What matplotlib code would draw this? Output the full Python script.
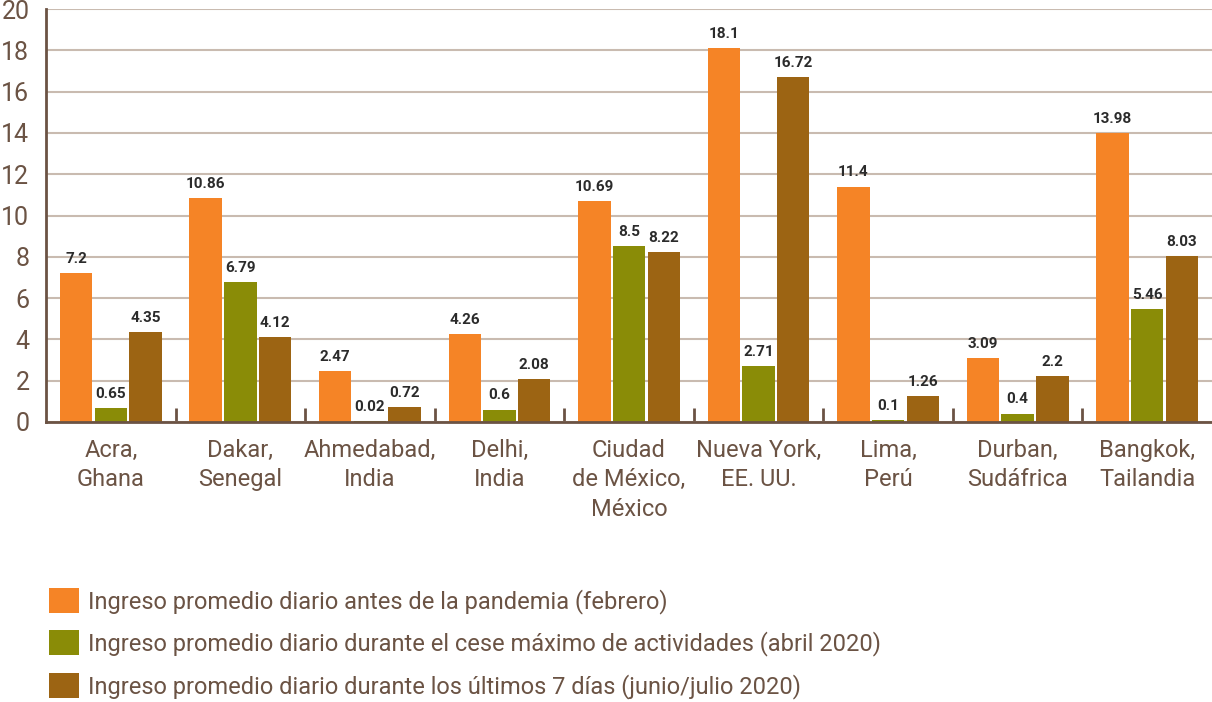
import matplotlib.pyplot as plt
import numpy as np
from matplotlib.ticker import FixedLocator

plt.rcParams['font.family'] = ['Roboto', 'DejaVu Sans']

ciudades = ["Acra,\nGhana", "Dakar,\nSenegal", "Ahmedabad,\nIndia", "Delhi,\nIndia",
            "Ciudad\nde México,\nMéxico", "Nueva York,\nEE. UU.", "Lima,\nPerú",
            "Durban,\nSudáfrica", "Bangkok,\nTailandia"]
antes = [7.2, 10.86, 2.47, 4.26, 10.69, 18.1, 11.4, 3.09, 13.98]
cese = [0.65, 6.79, 0.02, 0.6, 8.5, 2.71, 0.1, 0.4, 5.46]
ultimos = [4.35, 4.12, 0.72, 2.08, 8.22, 16.72, 1.26, 2.2, 8.03]
series_labels = ["Ingreso promedio diario antes de la pandemia (febrero)",
                 "Ingreso promedio diario durante el cese máximo de actividades (abril 2020)",
                 "Ingreso promedio diario durante los últimos 7 días (junio/julio 2020)"]
colores = ["#f58426", "#8a8c07", "#9c6413"]

texto = "#6b5344"

fig = plt.figure(figsize=(12.12, 7.02), dpi=100)
ax = fig.add_axes([0.038, 0.399, 0.962, 0.588])

x = np.arange(len(ciudades))
w = 0.25
gap = 0.018
for i, (vals, c, lab) in enumerate(zip([antes, cese, ultimos], colores, series_labels)):
    pos = x + (i - 1) * (w + gap)
    bars = ax.bar(pos, vals, w, color=c, label=lab, zorder=3)
    for b, v in zip(bars, vals):
        ax.text(b.get_x() + b.get_width() / 2, v + 0.35, f"{v:g}", ha="center", va="bottom",
                fontsize=11, fontweight="bold", color="#2b2b2b", zorder=4)

ax.set_xlim(-0.5, len(ciudades) - 0.5)
ax.set_ylim(0, 20)
ax.set_yticks(np.arange(0, 21, 2))
ax.yaxis.grid(True, color="#c9bbb0", linewidth=1.5, zorder=0)
ax.tick_params(axis="y", length=0, labelsize=18, labelcolor=texto, pad=12)

ax.set_xticks(x)
ax.set_xticklabels(ciudades, fontsize=17, color=texto, linespacing=1.37)
ax.tick_params(axis="x", length=0, pad=12)
ax.xaxis.set_minor_locator(FixedLocator(x[:-1] + 0.5))
ax.tick_params(axis="x", which="minor", direction="in", length=10, width=2, color=texto)

for s in ["top", "right"]:
    ax.spines[s].set_visible(False)
for s in ["left", "bottom"]:
    ax.spines[s].set_color(texto)
    ax.spines[s].set_linewidth(2)
    ax.spines[s].set_zorder(5)

leg = fig.legend(loc="upper left", bbox_to_anchor=(0.033, 0.176), frameon=False,
                 fontsize=17, handlelength=1.25, handleheight=1.25, handletextpad=0.4,
                 labelspacing=0.7, borderaxespad=0)
for t in leg.get_texts():
    t.set_color(texto)

fig.savefig("out.png", dpi=100)
